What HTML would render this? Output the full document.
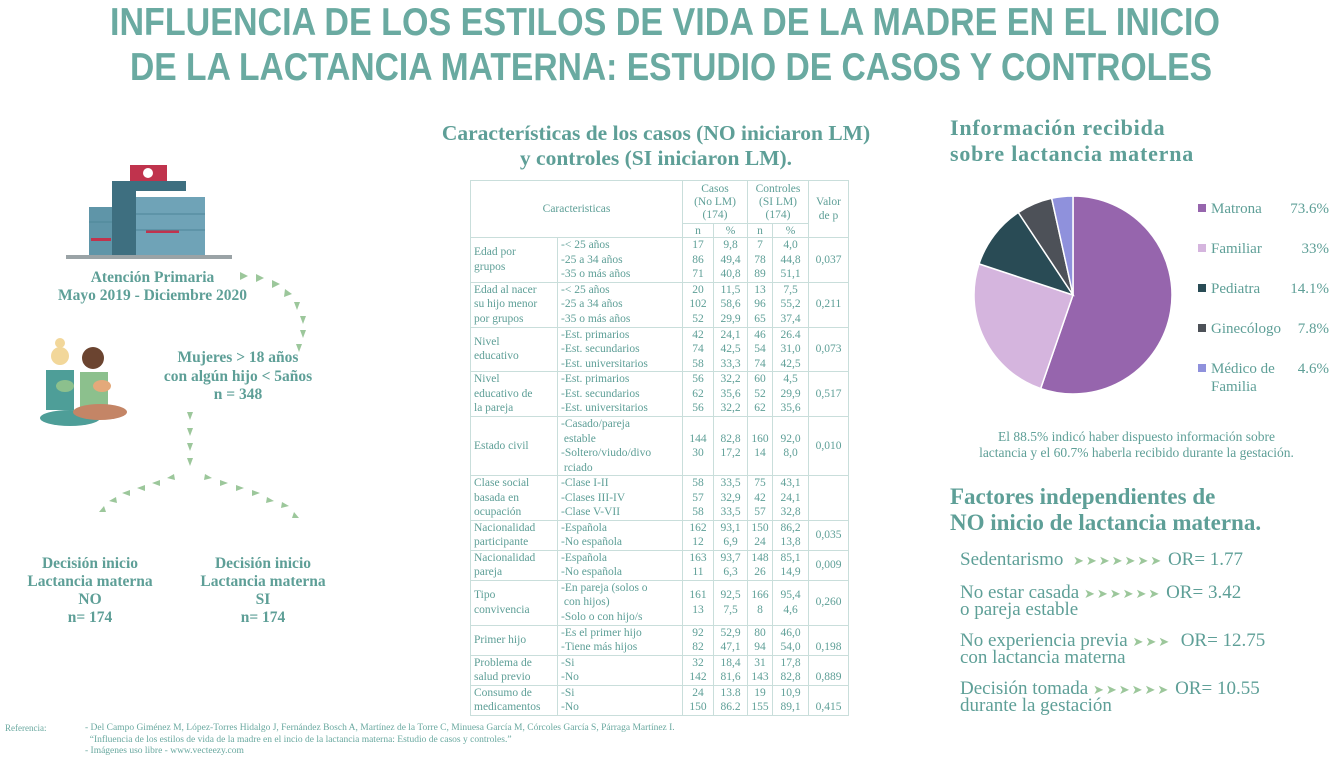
<!DOCTYPE html>
<html><head><meta charset="utf-8">
<style>
body{margin:0;width:1333px;height:764px;background:#fff;position:relative;overflow:hidden;font-family:"Liberation Serif",serif;color:#5e9f97}
.abs{position:absolute}
.h{font-weight:bold;color:#5e9f97}
table{border-collapse:collapse;position:absolute;left:470px;top:180px;font-size:11.5px;color:#5e9f97;line-height:14.5px;table-layout:fixed;width:378px}
td{border:1px solid #c9dedb;padding:0 3px;vertical-align:middle;overflow:hidden;white-space:nowrap}
td.w{white-space:normal}
td.n{text-align:center;padding:0 1px}
.ctr{text-align:center}
.fac{position:absolute;left:960px;font-size:19px;line-height:16px;color:#5e9f97;white-space:nowrap}
.fac .ar{color:#9cc79b;font-size:13px;letter-spacing:2px}
</style></head><body>
<svg class="abs" style="left:0;top:0" width="1333" height="90">
<text x="110" y="35" textLength="1110" lengthAdjust="spacingAndGlyphs" font-family="Liberation Sans, sans-serif" font-weight="bold" font-size="39" fill="#6aaaa1">INFLUENCIA DE LOS ESTILOS DE VIDA DE LA MADRE EN EL INICIO</text>
<text x="130" y="80" textLength="1082" lengthAdjust="spacingAndGlyphs" font-family="Liberation Sans, sans-serif" font-weight="bold" font-size="39" fill="#6aaaa1">DE LA LACTANCIA MATERNA: ESTUDIO DE CASOS Y CONTROLES</text>
</svg>

<svg class="abs" style="left:0;top:150px" width="340" height="500">
<g>
<rect x="66" y="105" width="166" height="4" fill="#9aa3a6"/>
<rect x="89" y="57" width="24" height="48" fill="#5f95a8"/>
<rect x="112" y="31" width="24" height="74" fill="#3e6f80"/>
<rect x="112" y="31" width="74" height="10" fill="#3e6f80"/>
<rect x="136" y="47" width="69" height="58" fill="#6fa3b7"/>
<rect x="130" y="15" width="37" height="16" fill="#c0334d"/>
<circle cx="148" cy="23" r="5" fill="#fff"/>
<rect x="91" y="88" width="20" height="3" fill="#c0334d"/>
<rect x="146" y="80" width="33" height="3" fill="#c0334d"/>
<g stroke="#4d8698" stroke-width="1"><line x1="136" y1="64" x2="205" y2="64"/><line x1="136" y1="80" x2="205" y2="80"/><line x1="89" y1="72" x2="112" y2="72"/></g>
</g>
<g fill="#9cc79b">
<path d="M240 122 l8 4 -8 4z"/><path d="M256 124 l8 4 -8 4z"/><path d="M272 130 l8 4 -8 4z"/><path d="M285 139 l7 5 -8 3z"/><path d="M294 152 l6 0 -3 8z"/><path d="M300 166 l6 0 -3 8z"/><path d="M300 180 l6 0 -3 8z"/><path d="M296 194 l6 0 -3 8z"/>
<path d="M187 262 l6 0 -3 8z"/><path d="M187 278 l6 0 -3 8z"/><path d="M187 293 l6 0 -3 8z"/><path d="M187 308 l6 0 -3 8z"/>
<path d="M174 324 l-7 4 8 2z"/><path d="M160 330 l-8 3 8 3z"/><path d="M145 335 l-8 3 8 3z"/><path d="M130 340 l-8 3 8 3z"/><path d="M116 347 l-7 4 8 2z"/><path d="M104 356 l-5 6 7 0z"/>
<path d="M205 324 l7 4 -8 2z"/><path d="M220 330 l8 3 -8 3z"/><path d="M236 335 l8 3 -8 3z"/><path d="M252 340 l8 3 -8 3z"/><path d="M267 347 l7 4 -8 2z"/><path d="M282 352 l7 4 -8 2z"/><path d="M294 362 l5 6 -7 0z"/>
</g>
<g>
<circle cx="60" cy="206" r="9" fill="#f2d79a"/><circle cx="60" cy="193" r="5" fill="#f2d79a"/>
<path d="M46 220 h28 v40 h-28z" fill="#4e9e98"/>
<circle cx="93" cy="208" r="11" fill="#6b4430"/><path d="M80 222 h28 v38 h-28z" fill="#8cc08d"/>
<ellipse cx="70" cy="268" rx="30" ry="8" fill="#4e9e98"/><ellipse cx="100" cy="262" rx="27" ry="8" fill="#c48566"/>
<ellipse cx="65" cy="236" rx="9" ry="6" fill="#8cc08d"/><ellipse cx="102" cy="236" rx="9" ry="6" fill="#e4a97a"/>
</g>
</svg>
<div class="abs h ctr" style="left:30px;top:269px;width:245px;font-size:15.5px;line-height:18px">Atención Primaria<br>Mayo 2019 - Diciembre 2020</div>
<div class="abs h ctr" style="left:138px;top:349px;width:200px;font-size:15.5px;line-height:18.5px">Mujeres &gt; 18 años<br>con algún hijo &lt; 5años<br>n = 348</div>
<div class="abs h ctr" style="left:15px;top:555px;width:150px;font-size:15.5px;line-height:18px">Decisión inicio<br>Lactancia materna<br>NO<br>n= 174</div>
<div class="abs h ctr" style="left:188px;top:555px;width:150px;font-size:15.5px;line-height:18px">Decisión inicio<br>Lactancia materna<br>SI<br>n= 174</div>

<div class="abs h ctr" style="left:390px;top:121px;width:532px;font-size:21.5px;line-height:25px">Características de los casos (NO iniciaron LM)<br>y controles (SI iniciaron LM).</div>
<table>
<colgroup><col style="width:87px"><col style="width:125px"><col style="width:31px"><col style="width:34px"><col style="width:25px"><col style="width:36px"><col style="width:40px"></colgroup>
<tr style="height:43px"><td colspan="2" rowspan="2" class="ctr">Caracteristicas</td><td colspan="2" class="ctr" style="line-height:13px">Casos<br>(No LM)<br>(174)</td><td colspan="2" class="ctr" style="line-height:13px">Controles<br>(SI LM)<br>(174)</td><td rowspan="2" class="ctr" style="line-height:14px">Valor<br>de p</td></tr>
<tr style="height:14px;line-height:12px"><td class="n">n</td><td class="n">%</td><td class="n">n</td><td class="n">%</td></tr>
<tr style="height:44px"><td>Edad por<br>grupos</td><td>-&lt; 25 años<br>-25 a 34 años<br>-35 o más años</td><td class="n">17<br>86<br>71</td><td class="n">9,8<br>49,4<br>40,8</td><td class="n">7<br>78<br>89</td><td class="n">4,0<br>44,8<br>51,1</td><td class="n">0,037</td></tr>
<tr style="height:45px"><td>Edad al nacer<br>su hijo menor<br>por grupos</td><td>-&lt; 25 años<br>-25 a 34 años<br>-35 o más años</td><td class="n">20<br>102<br>52</td><td class="n">11,5<br>58,6<br>29,9</td><td class="n">13<br>96<br>65</td><td class="n">7,5<br>55,2<br>37,4</td><td class="n">0,211</td></tr>
<tr style="height:44px"><td>Nivel<br>educativo</td><td>-Est. primarios<br>-Est. secundarios<br>-Est. universitarios</td><td class="n">42<br>74<br>58</td><td class="n">24,1<br>42,5<br>33,3</td><td class="n">46<br>54<br>74</td><td class="n">26.4<br>31,0<br>42,5</td><td class="n">0,073</td></tr>
<tr style="height:45px"><td>Nivel<br>educativo de<br>la pareja</td><td>-Est. primarios<br>-Est. secundarios<br>-Est. universitarios</td><td class="n">56<br>62<br>56</td><td class="n">32,2<br>35,6<br>32,2</td><td class="n">60<br>52<br>62</td><td class="n">4,5<br>29,9<br>35,6</td><td class="n">0,517</td></tr>
<tr style="height:57px"><td>Estado civil</td><td>-Casado/pareja<br>&nbsp;estable<br>-Soltero/viudo/divo<br>&nbsp;rciado</td><td class="n">144<br>30</td><td class="n">82,8<br>17,2</td><td class="n">160<br>14</td><td class="n">92,0<br>8,0</td><td class="n">0,010</td></tr>
<tr style="height:44px"><td>Clase social<br>basada en<br>ocupación</td><td>-Clase I-II<br>-Clases III-IV<br>-Clase V-VII</td><td class="n">58<br>57<br>58</td><td class="n">33,5<br>32,9<br>33,5</td><td class="n">75<br>42<br>57</td><td class="n">43,1<br>24,1<br>32,8</td><td class="n"></td></tr>
<tr style="height:30px"><td>Nacionalidad<br>participante</td><td>-Española<br>-No española</td><td class="n">162<br>12</td><td class="n">93,1<br>6,9</td><td class="n">150<br>24</td><td class="n">86,2<br>13,8</td><td class="n">0,035</td></tr>
<tr style="height:29px"><td>Nacionalidad<br>pareja</td><td>-Española<br>-No española</td><td class="n">163<br>11</td><td class="n">93,7<br>6,3</td><td class="n">148<br>26</td><td class="n">85,1<br>14,9</td><td class="n">0,009</td></tr>
<tr style="height:45px"><td>Tipo<br>convivencia</td><td>-En pareja (solos o<br>&nbsp;con hijos)<br>-Solo o con hijo/s</td><td class="n">161<br>13</td><td class="n">92,5<br>7,5</td><td class="n">166<br>8</td><td class="n">95,4<br>4,6</td><td class="n">0,260</td></tr>
<tr style="height:29px"><td>Primer hijo</td><td>-Es el primer hijo<br>-Tiene más hijos</td><td class="n">92<br>82</td><td class="n">52,9<br>47,1</td><td class="n">80<br>94</td><td class="n">46,0<br>54,0</td><td class="n" style="vertical-align:bottom">0,198</td></tr>
<tr style="height:30px"><td>Problema de<br>salud previo</td><td>-Si<br>-No</td><td class="n">32<br>142</td><td class="n">18,4<br>81,6</td><td class="n">31<br>143</td><td class="n">17,8<br>82,8</td><td class="n" style="vertical-align:bottom">0,889</td></tr>
<tr style="height:30px"><td>Consumo de<br>medicamentos</td><td>-Si<br>-No</td><td class="n">24<br>150</td><td class="n">13.8<br>86.2</td><td class="n">19<br>155</td><td class="n">10,9<br>89,1</td><td class="n" style="vertical-align:bottom">0,415</td></tr>
</table>

<div class="abs h" style="left:950px;top:115px;font-size:22px;line-height:26px;letter-spacing:0.8px">Información recibida<br>sobre lactancia materna</div>
<svg id="pie" class="abs" style="left:960px;top:180px" width="373" height="230"></svg>
<div class="abs ctr" style="left:940px;top:429px;width:393px;font-size:13.5px;line-height:15.5px;color:#5e9f97">El 88.5% indicó haber dispuesto información sobre<br>lactancia y el 60.7% haberla recibido durante la gestación.</div>

<div class="abs h" style="left:950px;top:484px;font-size:23px;line-height:26px">Factores independientes de<br>NO inicio de lactancia materna.</div>
<div class="fac" style="top:552px">Sedentarismo &nbsp;<span class="ar">➤➤➤➤➤➤➤</span> OR= 1.77</div>
<div class="fac" style="top:585px">No estar casada <span class="ar">➤➤➤➤➤➤</span> OR= 3.42<br>o pareja estable</div>
<div class="fac" style="top:633px">No experiencia previa <span class="ar">➤➤➤</span> &nbsp;OR= 12.75<br>con lactancia materna</div>
<div class="fac" style="top:681px">Decisión tomada <span class="ar">➤➤➤➤➤➤</span> OR= 10.55<br>durante la gestación</div>

<div class="abs" style="left:5px;top:723px;font-size:9px;line-height:11.5px;color:#6aa9a0">Referencia:</div>
<div class="abs" style="left:85px;top:723px;font-size:9.5px;line-height:11.5px;color:#6aa9a0;white-space:nowrap">- Del Campo Giménez M, López-Torres Hidalgo J, Fernández Bosch A, Martínez de la Torre C, Minuesa García M, Córcoles García S, Párraga Martínez I.<br>&nbsp;&nbsp;“Influencia de los estilos de vida de la madre en el incio de la lactancia materna: Estudio de casos y controles.”<br>- Imágenes uso libre - www.vecteezy.com</div>

<script>
const categories=["Matrona","Familiar","Pediatra","Ginecólogo","Médico de Familia"];
const values=[73.6,33,14.1,7.8,4.6];
const labels=["73.6%","33%","14.1%","7.8%","4.6%"];
const colors=["#9665ad","#d5b5de","#294b55","#4d5158","#8f91dc"];
const svg=document.getElementById('pie');
const NS="http://www.w3.org/2000/svg";
const cx=113,cy=115,r=99;
const total=values.reduce((a,b)=>a+b,0);
let a0=0;
values.forEach((v,i)=>{
  const a1=a0+v/total*2*Math.PI;
  const x0=cx+r*Math.sin(a0),y0=cy-r*Math.cos(a0),x1=cx+r*Math.sin(a1),y1=cy-r*Math.cos(a1);
  const p=document.createElementNS(NS,'path');
  p.setAttribute('d',`M${cx} ${cy} L${x0} ${y0} A${r} ${r} 0 ${a1-a0>Math.PI?1:0} 1 ${x1} ${y1}Z`);
  p.setAttribute('fill',colors[i]);p.setAttribute('stroke','#fff');p.setAttribute('stroke-width','1.5');
  
  
  svg.appendChild(p);a0=a1;
});
categories.forEach((c,i)=>{
  const y=33+i*40;
  const g=document.createElementNS(NS,'g');
  
  
  const s=document.createElementNS(NS,'rect');
  s.setAttribute('x',238);s.setAttribute('y',y-9);s.setAttribute('width',8);s.setAttribute('height',8);s.setAttribute('fill',colors[i]);
  g.appendChild(s);
  const parts=c==="Médico de Familia"?["Médico de","Familia"]:[c];
  parts.forEach((t,j)=>{
    const tx=document.createElementNS(NS,'text');
    tx.setAttribute('x',251);tx.setAttribute('y',y+j*18);tx.setAttribute('font-size','15');
    tx.setAttribute('font-family','Liberation Serif, serif');tx.setAttribute('fill','#5e9f97');tx.textContent=t;g.appendChild(tx);
  });
  const tv=document.createElementNS(NS,'text');
  tv.setAttribute('x',369);tv.setAttribute('text-anchor','end');tv.setAttribute('y',y);tv.setAttribute('font-size','15');
  tv.setAttribute('font-family','Liberation Serif, serif');tv.setAttribute('fill','#5e9f97');tv.textContent=labels[i];g.appendChild(tv);
  svg.appendChild(g);
});
</script>
</body></html>
